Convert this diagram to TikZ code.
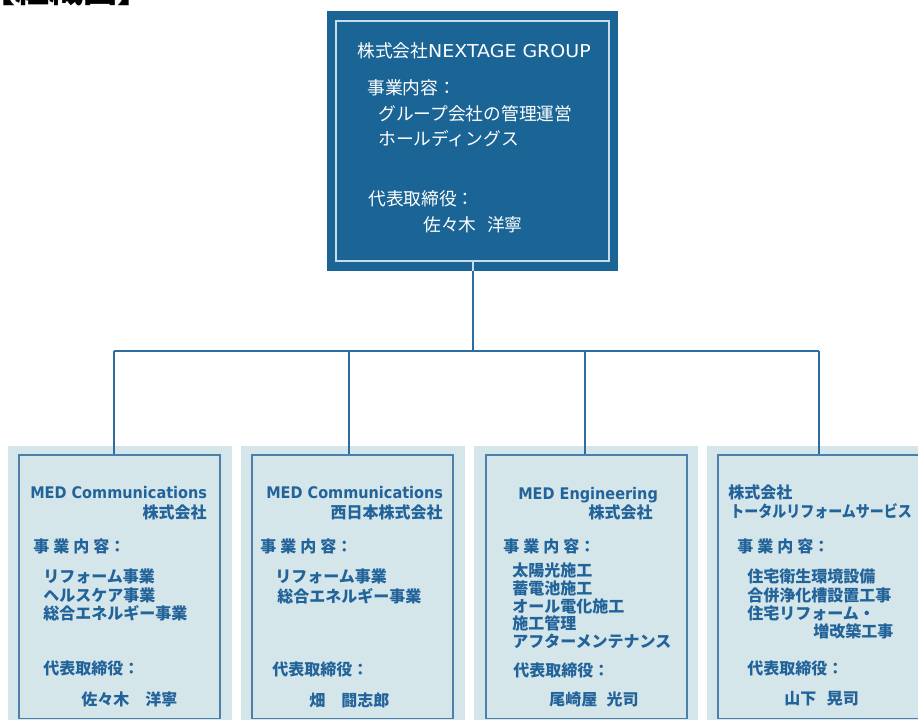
\documentclass[tikz,border=0pt]{standalone}
\usepackage{fontspec}
\setmainfont{Noto Sans CJK JP}
\newfontfamily\lat{DejaVu Sans}
\usetikzlibrary{fit}
\definecolor{topblue}{HTML}{1A6496}
\definecolor{linkblue}{HTML}{2C6EA0}
\definecolor{lightfill}{HTML}{D5E6EB}
\definecolor{cborder}{HTML}{4D80A8}
\definecolor{cblue}{HTML}{22639A}
\definecolor{whiteline}{HTML}{C9DCEA}
\newcommand{\clat}[1]{\scalebox{0.905}[1]{\lat\bfseries #1}}
\begin{document}
\begin{tikzpicture}[x=0.75pt,y=-0.75pt,
  topbox/.style={inner sep=0pt, fill=topblue},
  topinner/.style={inner sep=0pt, draw=whiteline, line width=1pt},
  outerbox/.style={inner sep=0pt, fill=lightfill},
  innerbox/.style={inner sep=0pt, draw=cborder, line width=1pt},
  link/.style={draw=linkblue, line width=1.5pt},
  tt/.style={anchor=base west, yshift=-5pt, inner sep=0pt, text=white, font=\fontsize{13.3}{16}\selectfont},
  ct/.style={anchor=base west, yshift=-4.5pt, inner sep=0pt, text=cblue, font=\fontsize{12}{14}\selectfont\bfseries},
  cte/.style={ct, anchor=base east}
]
\useasboundingbox (0,0) rectangle (918,720);

% title (cropped at the top edge)
\begin{scope}
\clip (0,0) rectangle (918,720);
\node[anchor=base east, inner sep=0pt, font=\fontsize{25.5}{26}\selectfont\bfseries] (title) at (152,3) {【組織図】};
\end{scope}

% top box
\node[fit={(327,11) (618,271)}, topbox] (top) {};
\node[fit={(336,21) (609,261)}, topinner] (topin) {};
\node[tt] (t0) at (357,50.5) {株式会社\scalebox{1.07}[1]{\lat NEXTAGE GROUP}};
\node[tt] (t1) at (367,88) {事業内容：};
\node[tt] (t2) at (378,114) {グループ会社の管理運営};
\node[tt] (t3) at (378,139) {ホールディングス};
\node[tt] (t4) at (368,199) {代表取締役：};
\node[tt] (t5) at (423,224.5) {佐々木\hspace{8pt}洋寧};

% child boxes
\node[fit={(8,446) (232,722)}, outerbox] (c1) {};
\node[fit={(241,446) (465,722)}, outerbox] (c2) {};
\node[fit={(474,446) (698,722)}, outerbox] (c3) {};
\node[fit={(707,446) (925,722)}, outerbox] (c4) {};
\node[fit={(19,455) (220,718.5)}, innerbox] (c1in) {};
\node[fit={(252,455) (453,718.5)}, innerbox] (c2in) {};
\node[fit={(486,455) (687,718.5)}, innerbox] (c3in) {};
\node[fit={(718,455) (935,718.5)}, innerbox] (c4in) {};

% connectors
\coordinate (bus) at (472.5,351);
\coordinate (j1) at (114,351);
\coordinate (j2) at (349,351);
\coordinate (j3) at (585,351);
\coordinate (j4) at (819,351);
\draw[link] (topin.south) -- (bus);
\draw[draw=whiteline, line width=1.5pt] (topin.south) -- (topin.south |- top.south);
\draw[link] (j1) -- (j4);
\draw[link] (j1) -- (j1 |- c1in.north);
\draw[link] (j2) -- (j2 |- c2in.north);
\draw[link] (j3) -- (j3 |- c3in.north);
\draw[link] (j4) -- (j4 |- c4in.north);

% box 1
\node[ct] (a0) at (30,492.5) {\clat{MED Communications}};
\node[cte] (a1) at (207,512.5) {株式会社};
\node[ct] (a2) at (33,546.5) {事\hspace{3pt}業\hspace{3pt}内\hspace{3pt}容：};
\node[ct] (a3) at (43,576.5) {リフォーム事業};
\node[ct] (a4) at (43,595) {ヘルスケア事業};
\node[ct] (a5) at (43,613.5) {総合エネルギー事業};
\node[ct] (a6) at (43,668.5) {代表取締役：};
\node[ct] (a7) at (81,699.5) {佐々木　洋寧};

% box 2
\node[ct] (b0) at (266,492.5) {\clat{MED Communications}};
\node[cte] (b1) at (443,512.5) {西日本株式会社};
\node[ct] (b2) at (260,546.5) {事\hspace{3pt}業\hspace{3pt}内\hspace{3pt}容：};
\node[ct] (b3) at (275,576.5) {リフォーム事業};
\node[ct] (b4) at (277,596.7) {総合エネルギー事業};
\node[ct] (b5) at (272,669) {代表取締役：};
\node[ct] (b6) at (309,700) {畑　闘志郎};

% box 3
\node[ct] (d0) at (518,493) {\clat{MED Engineering}};
\node[cte] (d1) at (653,512.5) {株式会社};
\node[ct] (d2) at (503,546.5) {事\hspace{3pt}業\hspace{3pt}内\hspace{3pt}容：};
\node[ct] (d3) at (512,570) {太陽光施工};
\node[ct] (d4) at (512,588) {蓄電池施工};
\node[ct] (d5) at (512,606.7) {オール電化施工};
\node[ct] (d6) at (512,623) {施工管理};
\node[ct] (d7) at (512,641.7) {アフターメンテナンス};
\node[ct] (d8) at (513,670) {代表取締役：};
\node[ct] (d9) at (549,699.5) {尾崎屋\hspace{7pt}光司};

% box 4
\node[ct] (e0) at (728,492.5) {株式会社};
\node[ct] (e1) at (730,511.7) {\scalebox{0.875}[1]{トータルリフォームサービス}};
\node[ct] (e2) at (737,546.5) {事\hspace{3pt}業\hspace{3pt}内\hspace{3pt}容：};
\node[ct] (e3) at (747,576.5) {住宅衛生環境設備};
\node[ct] (e4) at (747,595) {合併浄化槽設置工事};
\node[ct] (e5) at (747,613.5) {住宅リフォーム・};
\node[ct] (e6) at (813,631.7) {増改築工事};
\node[ct] (e7) at (747,668.5) {代表取締役：};
\node[ct] (e8) at (784,698) {山下\hspace{8pt}晃司};
\end{tikzpicture}
\end{document}
